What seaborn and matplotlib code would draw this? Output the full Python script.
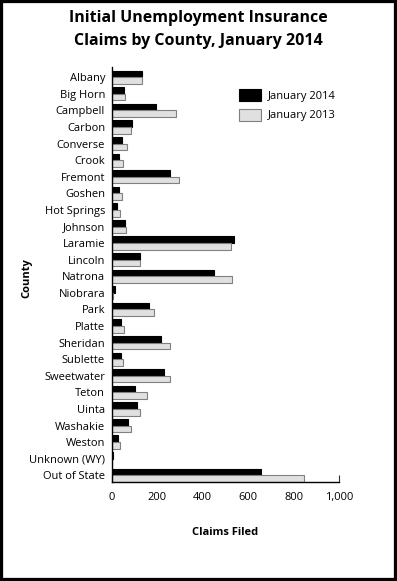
import numpy as np
import pandas as pd
import matplotlib
matplotlib.use("Agg")
import matplotlib.pyplot as plt
from matplotlib.patches import Rectangle, Patch
from matplotlib.ticker import FuncFormatter
import seaborn as sns

sns.set_style("white")
plt.rcParams['font.family'] = ['Open Sans', 'DejaVu Sans']
plt.rcParams['text.color'] = 'black'
plt.rcParams['axes.labelcolor'] = 'black'
plt.rcParams['xtick.color'] = 'black'
plt.rcParams['ytick.color'] = 'black'

# datos
condados = ['Albany', 'Big Horn', 'Campbell', 'Carbon', 'Converse', 'Crook',
            'Fremont', 'Goshen', 'Hot Springs', 'Johnson', 'Laramie', 'Lincoln',
            'Natrona', 'Niobrara', 'Park', 'Platte', 'Sheridan', 'Sublette',
            'Sweetwater', 'Teton', 'Uinta', 'Washakie', 'Weston',
            'Unknown (WY)', 'Out of State']
enero_2014 = [134, 55, 194, 88, 43, 31, 257, 31, 24, 57, 537, 122,
              449, 12, 162, 38, 216, 38, 231, 100, 110, 70, 26, 3, 656]
enero_2013 = [131, 59, 281, 85, 66, 48, 295, 44, 37, 62, 526, 123,
              529, 6, 185, 52, 257, 48, 257, 154, 123, 84, 35, 1, 845]
series = ['January 2014', 'January 2013']
colores = ['#000000', '#e0e0e0']
bordes = ['#000000', '#808080']

df = pd.DataFrame({
    'County': condados * 2,
    'Claims': enero_2014 + enero_2013,
    'Serie': [series[0]] * len(condados) + [series[1]] * len(condados),
})

fig = plt.figure(figsize=(3.97, 5.81), dpi=100)
ax = fig.add_axes([0.282, 0.170, 0.572, 0.715])

sns.barplot(data=df, y='County', x='Claims', hue='Serie', hue_order=series,
            palette=colores, orient='h', width=0.8, ax=ax, legend=False)

for cont, borde in zip(ax.containers, bordes):
    for barra in cont:
        barra.set_edgecolor(borde)
        barra.set_linewidth(0.8)

ax.set_xlim(0, 1000)
ax.set_ylim(24.42, -0.63)
ax.xaxis.set_major_formatter(FuncFormatter(lambda v, p: f'{v:,.0f}'))
ax.set_xticks([0, 200, 400, 600, 800, 1000])
ax.tick_params(axis='x', direction='in', length=5, width=0.8, color='#333333',
               labelsize=8, pad=7, bottom=True)
ax.tick_params(axis='y', length=0, labelsize=8, pad=5)

for lado in ['top', 'right']:
    ax.spines[lado].set_visible(False)
for lado in ['left', 'bottom']:
    ax.spines[lado].set_color('#000000')
    ax.spines[lado].set_linewidth(1.0)

ax.set_xlabel('Claims Filed', fontsize=8, fontweight='bold', labelpad=17)
ax.set_ylabel('')
fig.text(0.068, 0.521, 'County', rotation=90, fontsize=8, fontweight='bold',
         ha='center', va='center')

manijas = [Patch(facecolor=c, edgecolor=b, linewidth=0.8) for c, b in zip(colores, bordes)]
ax.legend(manijas, series, loc='upper left', bbox_to_anchor=(0.514, 0.97),
          frameon=False, fontsize=8, handlelength=2.0, handleheight=1.3,
          handletextpad=0.6, labelspacing=0.6)

fig.text(0.5, 0.982, 'Initial Unemployment Insurance\nClaims by County, January 2014',
         ha='center', va='top', fontsize=11.5, fontweight='bold', linespacing=1.55)

fig.patches.append(Rectangle((0, 0), 1, 1, transform=fig.transFigure, fill=False,
                             linewidth=4.5, edgecolor='black'))

fig.savefig('out.png', dpi=100)
